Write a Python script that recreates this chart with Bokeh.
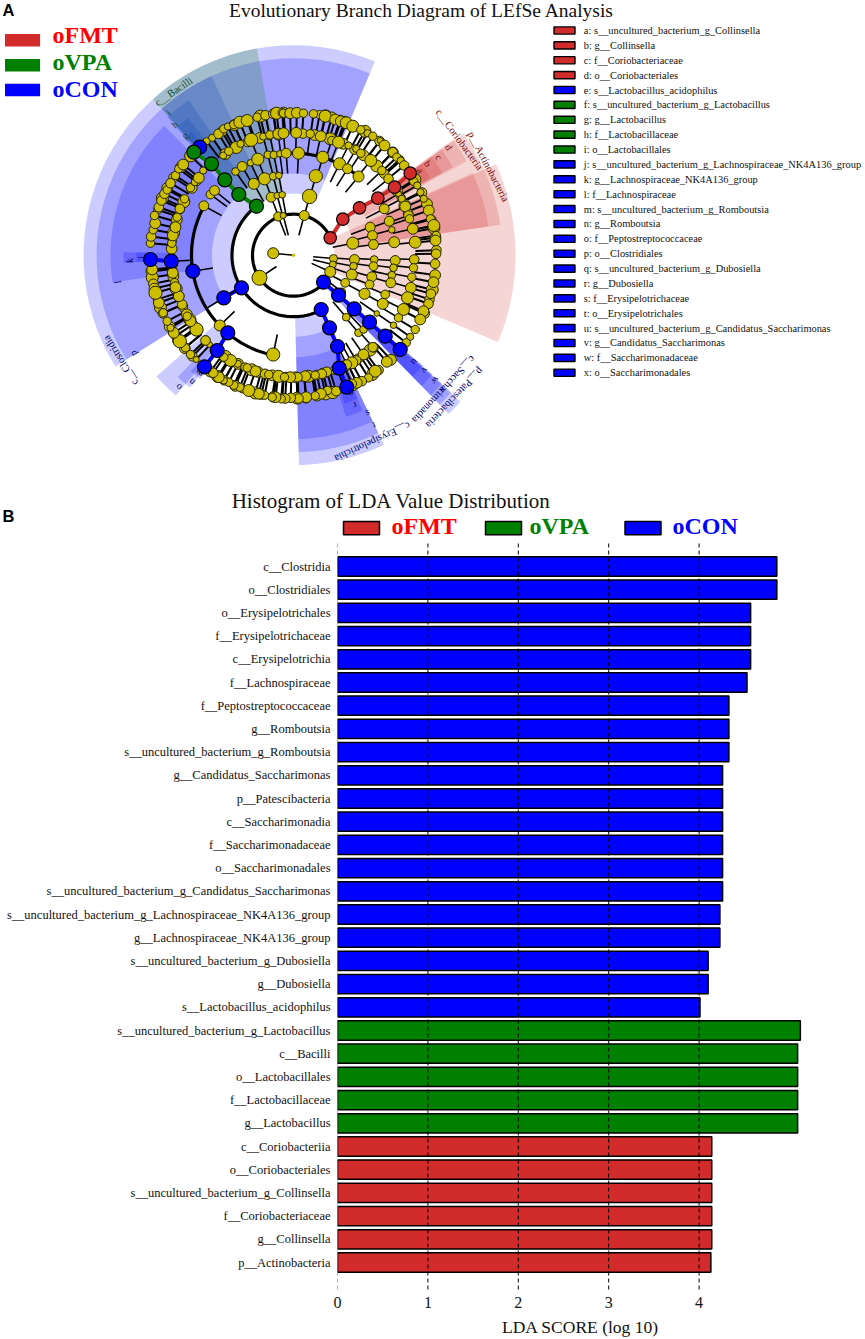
import numpy as np
from bokeh.plotting import figure
from bokeh.layouts import column
from bokeh.models import Range1d, FixedTicker
from bokeh.core.properties import value
from bokeh.embed import file_html
from bokeh.resources import INLINE

SERIF = "Liberation Serif"
RED, GREEN, BLUE = "#D22B2B", "#008000", "#0000FF"
YEL = "#CDBE00"

# ---------- bar chart data ----------
bar_labels = ["c__Clostridia", "o__Clostridiales", "o__Erysipelotrichales", "f__Erysipelotrichaceae",
              "c__Erysipelotrichia", "f__Lachnospiraceae", "f__Peptostreptococcaceae", "g__Romboutsia",
              "s__uncultured_bacterium_g_Romboutsia", "g__Candidatus_Saccharimonas", "p__Patescibacteria",
              "c__Saccharimonadia", "f__Saccharimonadaceae", "o__Saccharimonadales",
              "s__uncultured_bacterium_g_Candidatus_Saccharimonas",
              "s__uncultured_bacterium_g_Lachnospiraceae_NK4A136_group", "g__Lachnospiraceae_NK4A136_group",
              "s__uncultured_bacterium_g_Dubosiella", "g__Dubosiella", "s__Lactobacillus_acidophilus",
              "s__uncultured_bacterium_g_Lactobacillus", "c__Bacilli", "o__Lactobacillales",
              "f__Lactobacillaceae", "g__Lactobacillus", "c__Coriobacteriia", "o__Coriobacteriales",
              "s__uncultured_bacterium_g_Collinsella", "f__Coriobacteriaceae", "g__Collinsella",
              "p__Actinobacteria"]
bar_values = [4.86, 4.86, 4.57, 4.57, 4.57, 4.53, 4.33, 4.33, 4.33, 4.26, 4.26, 4.26, 4.26, 4.26, 4.26,
              4.23, 4.23, 4.10, 4.10, 4.01, 5.12, 5.09, 5.09, 5.09, 5.09, 4.14, 4.14, 4.14, 4.14, 4.14, 4.13]
bar_groups = ["oCON"] * 20 + ["oVPA"] * 5 + ["oFMT"] * 6
group_names = ["oFMT", "oVPA", "oCON"]

# ---------- cladogram legend ----------
clade_legend = ["a: s__uncultured_bacterium_g_Collinsella", "b: g__Collinsella", "c: f__Coriobacteriaceae",
                "d: o__Coriobacteriales", "e: s__Lactobacillus_acidophilus",
                "f: s__uncultured_bacterium_g_Lactobacillus", "g: g__Lactobacillus", "h: f__Lactobacillaceae",
                "i: o__Lactobacillales", "j: s__uncultured_bacterium_g_Lachnospiraceae_NK4A136_group",
                "k: g__Lachnospiraceae_NK4A136_group", "l: f__Lachnospiraceae",
                "m: s__uncultured_bacterium_g_Romboutsia", "n: g__Romboutsia", "o: f__Peptostreptococcaceae",
                "p: o__Clostridiales", "q: s__uncultured_bacterium_g_Dubosiella", "r: g__Dubosiella",
                "s: f__Erysipelotrichaceae", "t: o__Erysipelotrichales",
                "u: s__uncultured_bacterium_g_Candidatus_Saccharimonas", "v: g__Candidatus_Saccharimonas",
                "w: f__Saccharimonadaceae", "x: o__Saccharimonadales"]
clade_groups = ["oFMT"] * 4 + ["oCON"] + ["oVPA"] * 4 + ["oCON"] * 15

# ---------- cladogram: centre, highlighted sectors (angle from, angle to, radius from, radius to, group) ----------
CX, CY = 293.0, 254.7
sectors = [
    (67.2, 212, 61.5, 210, "oCON"), (67.2, 212, 81.5, 197, "oCON"), (135, 188.6, 102, 183, "oCON"),
    (179, 182.5, 122, 170, "oCON"), (179, 182.5, 143, 157, "oCON"),
    (221.5, 230, 102, 183, "oCON"), (226.5, 232, 122, 168, "oCON"), (228.5, 233, 143, 155, "oCON"),
    (100, 132, 61.5, 210, "oVPA"), (114.6, 132, 81.7, 197, "slate"), (124, 132.5, 102, 187, "slate"),
    (127.5, 132.5, 122, 173, "slate"), (129.5, 133, 143, 160, "slate"),
    (-88.5, -64.5, 61.5, 210, "oCON"), (-88.5, -64.5, 81.5, 197, "oCON"), (-88.5, -64.5, 102, 184, "oCON"),
    (-72, -66, 122, 170, "oCON"), (-71, -66, 143, 157, "oCON"),
    (-45.7, -41.2, 41, 222, "oCON"), (-45.6, -41, 61, 209, "oCON"), (-45.5, -40.8, 81, 196, "oCON"),
    (-45.5, -40.6, 102, 183, "oCON"), (-45.5, -40.5, 122, 170, "oCON"),
    (-23, 24.2, 41, 222, "oFMT"), (8.4, 35.5, 61, 209, "oFMT"), (8.4, 24.7, 81, 197, "oFMT"),
    (28.5, 36, 81, 197, "oFMT"), (29, 35.5, 102, 182, "oFMT"), (29, 35.5, 122, 170, "oFMT"), (29.5, 35.5, 143, 157, "oFMT"),
]
# thick arcs: radius, angle from, angle to
arcs = [(41, 25, 318), (61.5, 126, 297), (102, 151, 258.5), (102, 48, 94)]

# ---------- cladogram nodes ----------
outer_x = [150, 150.7, 152.7, 154.7, 154, 158.3, 161, 164, 166.7, 170, 175, 178.3, 182.7, 206, 211.7, 218, 223.3, 227.3,
           233.3, 239.3, 246.7, 256.7, 265, 272.7, 276, 281.7, 283, 289.7, 296.3, 303, 313, 324.7, 334.7, 340.3, 345.7,
           352.3, 360.3, 367, 372.3, 379.7, 384, 392.3, 396.3, 400.3, 403.7, 413.3, 416.7, 420, 423.3, 428.3, 430, 433.3,
           435.7, 435, 435.6, 434.6, 433, 430.4, 428, 423, 419.7, 414.7, 409.7, 405.7, 386.3, 374.7, 368, 361.3, 356.3, 351.3,
           335.7, 327, 320.3, 314.7, 305.7, 298, 290.3, 284.7, 280.7, 275, 271.7, 264, 258.3, 248.3, 239.3, 233.3, 228.3,
           223.3, 218.3, 212.7, 195.7, 190, 185, 179.3, 173.3, 170, 166.7, 162.7, 158.3, 155, 151.7]
outer_y = [242.7, 236, 229.3, 222.7, 215, 206.7, 200, 193.3, 189.3, 182.7, 175, 168.3, 164, 140.7, 137.3, 133.3, 128.3, 126,
           124, 121.7, 120, 116.7, 114.7, 113.3, 112.7, 112.3, 112.7, 112.7, 112.3, 112.7, 113.3, 115.7, 119, 120.7, 122.3,
           125.7, 129.3, 132.7, 135.7, 140, 145, 151.7, 156.7, 160, 165, 181, 185, 191.7, 198.3, 210, 218.3, 225,
           235, 240, 253.3, 263.3, 281.7, 293.3, 303.3, 310.7, 319, 329, 336.3, 342.3, 361.3, 370.7, 377.3, 380.7, 382.3, 383.3,
           390.7, 390, 393.3, 395.3, 396.7, 398, 397.3, 398, 398.3, 396.7, 396.7, 394.7, 393.3, 390, 386.7, 384.7, 381.7,
           380, 376.7, 372.3, 359, 354, 347.3, 340.7, 332.3, 327.3, 320.7, 312.3, 302.3, 292.3, 269]
outer_d = [7, 8, 7, 9, 7, 8, 8, 8, 7, 8, 7, 7, 9, 6, 6, 8, 7, 6, 7, 10, 10, 7, 8, 8, 10, 7, 7, 9, 9, 7, 7, 10, 9, 9, 10, 10,
           7, 6, 7, 5, 9, 8, 7, 6, 8, 7, 6, 6, 6, 9, 7, 10, 7, 9, 8, 8, 9, 8, 8, 9, 9, 7, 6, 7, 9, 10, 7, 8, 9, 8,
           8, 7, 9, 7, 9, 8, 8, 8, 7, 9, 7, 7, 9, 10, 7, 7, 7, 6, 9, 8, 5, 7, 7, 11, 9, 6, 7, 7, 9, 11, 9]
# further ring nodes, by angle, where the rings run together and cannot be told apart one by one
outer_more_a = [186.5, 189, 191.5, 193.5, 198, 201.5, 204, 210, 214.5, 216.5, 220.5, 225, 234.5, 238, 241, 246, 249, 254.5,
                257, 262, 265.5, 271.5, 275, 279.5, 283, 286, 291, 294.5, 296.5, 303.5, 306.5, 313, 161.5, 156.5, 152,
                147, 142, 136, 120, 114.5, 108.5, 103.5, 98, 94, 79.5, 77, 74.5, 71, 69, 60, 53, 46, 42, 32, 26, 21, 14.5, 11, 7, 2, -8, -14, -18, -24]
second_more_a = [184, 187.5, 190, 193, 196, 199.5, 205, 209, 212, 214.5, 218, 224, 236, 239, 243, 246.5, 250, 253, 256.5, 260,
                 263, 266.5, 271, 274, 277, 281, 284, 289.5, 293, 295.5, 302, 306, 309, 311, 177, 173, 169.5, 166, 163,
                 158, 154, 146.5, 142.5, 124, 118, 112, 106, 101.5, 97, 85.5, 80, 76.5, 72.5, 66, 60, 55, 47, 42, 32, 28, 24, 20]
more_d = [9, 10, 8, 9, 7, 10, 8, 9, 7, 10, 9, 8]

second_x = [171.3, 172.3, 175, 176.7, 179.3, 184, 190, 194.3, 198.3, 202.7, 222.7, 228.3, 240, 250.7, 262.7, 269.3, 277.7,
            283, 295.7, 309.7, 320.3, 331.3, 338, 348, 355.7, 360.3, 370.3, 381.3, 388, 398, 401.3, 404.7, 408, 409, 412.3,
            414.7, 413.7, 413, 411.3, 410.3, 407, 403, 398, 372.3, 363, 355.7, 351.3, 346.3, 326.3, 321.3, 314.7, 304.7,
            297, 289.7, 284, 268.3, 255, 246.7, 237.3, 230, 223.3, 209, 205, 196, 190, 186.7, 181.7, 178.3, 175, 172.3]
second_y = [242.7, 235, 226.7, 216.7, 208.3, 198.3, 187.3, 181.7, 177.3, 170, 155, 150.7, 143.3, 139.3, 136, 134.3, 133.3,
            132.7, 132.3, 133.3, 135.7, 140, 141.7, 145, 148.3, 152.7, 160, 170, 178.3, 193.3, 198.3, 206, 215, 218.3, 228.3,
            241.7, 259, 267.3, 276.7, 287.3, 297.3, 309, 317.3, 346.7, 354, 360, 362.3, 364, 371.3, 373.3, 374.7, 375.7,
            376.7, 376.7, 376.7, 374, 370.7, 367.3, 363.3, 360, 356.7, 344, 340, 329, 320.7, 315.7, 304, 295.7, 286.7, 272.3]
second_d = [7, 9, 9, 7, 8, 7, 7, 6, 9, 6, 6, 7, 6, 11, 6, 7, 9, 9, 9, 7, 9, 7, 10, 6, 6, 7, 10, 7, 8, 5, 6, 9, 8, 7, 9,
            10, 8, 7, 7, 9, 10, 10, 7, 8, 9, 8, 10, 8, 8, 8, 7, 9, 8, 9, 7, 7, 9, 7, 6, 10, 7, 5, 8, 11, 9, 7, 8, 9, 9, 9]

inner_x = [203.3, 210, 214, 235, 241.7, 250, 257.3, 267.3, 273.3, 279.3, 253.3, 264, 272.7, 278.3, 270.7, 276.7, 281.7,
           285.7, 298, 322.3, 339, 347, 358, 315.3, 309, 383.7, 388.7, 391.3, 393.7, 369.7, 372, 373, 352.3,
           354, 353, 351.3, 344.7, 341.3, 373.7, 373, 371.3, 369, 364, 394.7, 393, 391.3, 390.3, 384.7, 382.3,
           345.7, 358, 363, 376.3, 393, 219.3, 272.7]
inner_y = [205.3, 194, 190, 171, 166, 162.3, 158.7, 154.3, 154.3, 153.3, 183.3, 178.3, 175.7, 175, 196.7, 195, 194.3,
           152.7, 152.7, 156.7, 163.3, 168.3, 176, 175.7, 196, 208.3, 220.7, 229.3, 241.7, 226.7, 235, 244, 242.7,
           259, 265.7, 274, 282.3, 291.3, 259, 265.7, 276.3, 284, 293.3, 260, 267.3, 274.7, 282.3, 294, 303.3,
           316.7, 332.3, 329, 313, 324.7, 325, 354]
inner_d = [9, 8, 9, 7, 9, 6, 11, 7, 7, 6, 10, 11, 7, 6, 9, 6, 6, 9, 11, 11, 11, 9, 10, 12, 13, 9, 9, 6, 10, 9, 9, 9, 11,
           9, 7, 10, 8, 7, 7, 8, 9, 8, 10, 9, 7, 7, 9, 8, 10, 7, 7, 7, 5, 6, 10, 12]

stem_x = [272.7, 277.7, 282.7, 303.7, 259, 333, 332.3, 329.7]
stem_y = [252.7, 216, 215, 215, 277.3, 258, 264, 271.3]
stem_d = [11, 9, 6, 10, 15, 8, 7, 11]

# coloured chains of nodes (one list per clade)
chains = [
    ("oFMT", [329.7, 342.3, 359, 377.3, 394, 409.7], [237.3, 218.7, 207.3, 197.7, 186.7, 172.7]),
    ("oCON", [199.3], [146.7]),
    ("oVPA", [256, 238.3, 224.3, 211, 193.3], [205.7, 194, 179.3, 163.3, 151.7]),
    ("oCON", [323, 338, 353.7, 369, 384.7, 399.7], [281.7, 294.7, 308.3, 321.7, 335.7, 349]),
    ("oCON", [320.7, 329, 337, 338.7, 346.3], [309, 327.3, 346, 367.7, 386.7]),
    ("oCON", [241, 223.3], [287.3, 297.3]),
    ("oCON", [192.3], [270.7]),
    ("oCON", [170.7, 150], [260.7, 259]),
    ("oCON", [227.3, 216.7, 204], [332.3, 350, 366.3]),
]

# rotated texts: text, x, y, angle, group
clade_names = [
    ("c__Bacilli", 173, 91, 34.3, "oVPA"), ("c__Clostridia", 120, 360, 122, "oCON"),
    ("p__Actinobacteria", 488, 166, -62.6, "oFMT"), ("c__Coriobacteria", 459, 139, -53.9, "oFMT"),
    ("p__Patescibacteria", 454, 397.5, 226.8, "oCON"), ("c__Saccharimonadia", 443.3, 389, 227.3, "oCON"),
    ("c__Erysipelotrichia", 372, 441.5, 204.6, "oCON"),
]
clade_letters = [("a", 420, 170, -57, "oFMT"), ("b", 427.3, 163.3, -57, "oFMT"), ("c", 438.3, 156.7, -57, "oFMT"),
                 ("d", 448.3, 146.7, -57, "oFMT"), ("g", 184.3, 135, 42, "oVPA"), ("h", 174.3, 124.3, 42, "oVPA"),
                 ("i", 167.7, 111.7, 42, "oVPA"), ("j", 141, 257, 90, "oCON"), ("k", 129, 260, 90, "oCON"),
                 ("l", 117, 281.7, 98, "oCON"), ("m", 198.7, 372.7, 139, "oCON"), ("n", 191, 381.7, 139, "oCON"),
                 ("o", 178, 386.7, 139, "oCON"), ("p", 132.6, 353.3, 122, "oCON"), ("q", 351, 393, 201, "oCON"),
                 ("r", 354.7, 405, 201, "oCON"), ("s", 367.4, 413, 201, "oCON"), ("t", 373.6, 425, 201, "oCON"),
                 ("u", 414.3, 361.7, 228, "oCON"), ("v", 424.3, 370, 228, "oCON"), ("w", 435, 380, 228, "oCON"),
                 ("x", 443, 390, 228, "oCON")]

fill_of = {"oFMT": RED, "oVPA": GREEN, "oCON": BLUE, "slate": "#003CB4"}
legend_text_of = {"oFMT": "#FF0000", "oVPA": "#008000", "oCON": "#0000FF"}
label_of = {"oFMT": "#7A0A0A", "oVPA": "#0B4A2A", "oCON": "#00006E"}
RING_SCALE = 1.2


def pol(r, a):
    a = np.radians(np.asarray(a, float))
    return CX + r * np.cos(a), CY - r * np.sin(a)


def inward(xs, ys, dist):
    xs, ys = np.array(xs, float), np.array(ys, float)
    dx, dy = xs - CX, ys - CY
    r = np.hypot(dx, dy)
    return list(xs), list(ys), list(CX + dx * (r - dist) / r), list(CY + dy * (r - dist) / r)


def svg_fig(w, h):
    f = figure(width=w, height=h, output_backend="svg", toolbar_location=None, tools="",
               outline_line_color=None, background_fill_color="white", border_fill_color="white")
    f.grid.visible = False
    f.frame_align = False
    return f


# ============ top panel ============
TOP_H = 540
p1 = svg_fig(865, TOP_H)
p1.x_range = Range1d(0, 865)
p1.y_range = Range1d(TOP_H, 0)
p1.axis.visible = False
p1.min_border_left = p1.min_border_right = p1.min_border_top = p1.min_border_bottom = 0

for a0, a1, r0, r1, g in sectors:
    t = np.linspace(a0, a1, 40)
    xo, yo = pol(r1, t)
    xi, yi = pol(r0, t[::-1])
    p1.patch(np.r_[xo, xi], np.r_[yo, yi], fill_color=fill_of[g], fill_alpha=0.2, line_color=None)

# links
ox, oy = pol(143, outer_more_a)
sx, sy = pol(122, second_more_a)
ox_all, oy_all = list(outer_x) + list(ox), list(outer_y) + list(oy)
x0, y0, x1, y1 = inward(ox_all, oy_all, 21)
p1.segment(x0, y0, x1, y1, line_color="black", line_width=2)
lx = [x for x, y in zip(second_x, second_y) if x > 240 and y < 366]
ly = [y for x, y in zip(second_x, second_y) if x > 240 and y < 366]
x0, y0, x1, y1 = inward(lx, ly, 20.4)
p1.segment(x0, y0, x1, y1, line_color="black", line_width=1.6)
x0, y0, x1, y1 = inward(inner_x, inner_y, 20.4)
p1.segment(x0, y0, x1, y1, line_color="black", line_width=1.6)
x0, y0, x1, y1 = inward(stem_x, stem_y, 20.4)
p1.segment(x0, y0, x1, y1, line_color="black", line_width=1.6)

for r, a0, a1 in arcs:
    xa, ya = pol(r, np.linspace(a0, a1, 120))
    p1.line(xa, ya, line_color="black", line_width=3.2)

for g, xs, ys in chains:
    if len(xs) > 1:
        p1.line(xs, ys, line_color=fill_of[g], line_width=4)
# thin stems joining the blue clades to their parent arc
x0, y0, x1, y1 = inward([192.3, 170.7, 223.3], [270.7, 260.7, 297.3], 20.4)
p1.segment(x0, y0, x1, y1, line_color="black", line_width=1.6)
x0, y0, x1, y1 = inward([223.3], [297.3], -20.4)
p1.segment(x0, y0, x1, y1, line_color="black", line_width=1.6)

more_o = [more_d[i % len(more_d)] for i in range(len(outer_more_a))]
more_s = [more_d[(i + 5) % len(more_d)] for i in range(len(second_more_a))]
p1.scatter(stem_x, stem_y, size=stem_d, fill_color=YEL, line_color="#222200", line_width=1)
p1.scatter(inner_x, inner_y, size=[d * 1.1 for d in inner_d], fill_color=YEL, line_color="#222200", line_width=1)
p1.scatter(list(sx) + second_x, list(sy) + second_y, size=[d * RING_SCALE for d in more_s + second_d],
           fill_color=YEL, line_color="#222200", line_width=1)
p1.scatter(list(ox) + outer_x, list(oy) + outer_y, size=[d * RING_SCALE for d in more_o + outer_d],
           fill_color=YEL, line_color="#222200", line_width=1)
p1.scatter([CX], [CY], size=3.5, fill_color=YEL, line_color=None)
for g, xs, ys in chains:
    p1.scatter(xs, ys, size=14 if g != "oFMT" else 12.5, fill_color=fill_of[g], line_color="black", line_width=1.2)

for t, x, y, a, g in clade_names:
    p1.text([x], [y], text=[t], angle=a, angle_units="deg", text_align="center", text_baseline="middle",
            text_font=value(SERIF), text_font_size="10.5px", text_color=label_of[g])
for t, x, y, a, g in clade_letters:
    p1.text([x], [y], text=[t], angle=a, angle_units="deg", text_align="center", text_baseline="middle",
            text_font=value(SERIF), text_font_size="10px", text_color=label_of[g])

# top-left legend
for g, yr, yt in zip(group_names, [39.7, 64.7, 89.5], [34, 61, 88]):
    p1.quad(left=[4.5], right=[39.6], top=[yr - 6.2], bottom=[yr + 6.2], fill_color=fill_of[g], line_color=None)
    p1.text([52], [yt], text=[g], text_align="left", text_baseline="middle", text_font=value(SERIF),
            text_font_style="bold", text_font_size="24px", text_color=legend_text_of[g])

# right legend
ys_leg = [30 + i * 14.88 for i in range(len(clade_legend))]
p1.quad(left=[553.5] * 24, right=[574.5] * 24, top=[y - 3.6 for y in ys_leg], bottom=[y + 3.6 for y in ys_leg],
        fill_color=[fill_of[g] for g in clade_groups], line_color="black", line_width=1.4)
p1.text([583.3] * 24, ys_leg, text=clade_legend, text_align="left", text_baseline="middle", text_font=value(SERIF),
        text_font_size="10.4px", text_color="#111111")

p1.text([421], [9.5], text=["Evolutionary Branch Diagram of LEfSe Analysis"], text_align="center", text_baseline="middle",
        text_font=value(SERIF), text_font_size="19.5px", text_color="#111111")
p1.text([391], [500], text=["Histogram of LDA Value Distribution"], text_align="center", text_baseline="middle",
        text_font=value(SERIF), text_font_size="21px", text_color="#111111")
for t, y in [("A", 9), ("B", 515)]:
    p1.text([2], [y], text=[t], text_align="left", text_baseline="middle", text_font=value("Liberation Sans"),
            text_font_style="bold", text_font_size="16.5px", text_color="black")

# bar-chart legend
for g, xr, xt in zip(group_names, [343, 485, 624.5], [391, 529, 672]):
    p1.quad(left=[xr], right=[xr + 36], top=[521], bottom=[534.3], fill_color=fill_of[g], line_color="black", line_width=1.5)
    p1.text([xt], [525], text=[g], text_align="left", text_baseline="middle", text_font=value(SERIF),
            text_font_style="bold", text_font_size="24px", text_color=legend_text_of[g])

# ============ bottom panel ============
BOT_H = 799
F_TOP, F_BOT = 540, 1292
F_RIGHT = 823
Y0, STEP = 566.0, 23.2
p2 = svg_fig(865, BOT_H)
p2.min_border_left = 337
p2.min_border_right = 865 - F_RIGHT
p2.min_border_top = 0
p2.min_border_bottom = BOT_H - (F_BOT - F_TOP)
p2.x_range = Range1d(0, (F_RIGHT - 337) / 90.4)
p2.y_range = Range1d((F_BOT - Y0) / STEP, (F_TOP - Y0) / STEP)
p2.extra_y_ranges = {"px": Range1d(F_BOT, F_TOP)}

rows = list(range(len(bar_labels)))
p2.hbar(y=rows, left=0, right=bar_values, height=0.83, fill_color=[fill_of[g] for g in bar_groups],
        line_color="black", line_width=1.5)

xa = p2.xaxis[0]
xa.ticker = FixedTicker(ticks=[0, 1, 2, 3, 4])
xa.axis_line_color = None
xa.major_tick_line_color = None
xa.minor_tick_line_color = None
xa.major_tick_out = 0
xa.major_tick_in = 0
xa.major_label_text_font = SERIF
xa.major_label_text_font_size = "16px"
xa.major_label_text_color = "#111111"
xa.major_label_standoff = 4
xa.axis_label = "LDA SCORE (log 10)"
xa.axis_label_text_font = SERIF
xa.axis_label_text_font_style = "normal"
xa.axis_label_text_font_size = "17.5px"
xa.axis_label_text_color = "#111111"
xa.axis_label_standoff = 6

ya = p2.yaxis[0]
ya.ticker = FixedTicker(ticks=rows)
ya.major_label_overrides = {i: s for i, s in enumerate(bar_labels)}
ya.axis_line_color = None
ya.major_tick_line_color = None
ya.minor_tick_line_color = None
ya.major_tick_out = 0
ya.major_tick_in = 0
ya.major_label_text_font = SERIF
ya.major_label_text_font_size = "12.5px"
ya.major_label_text_color = "#111111"
ya.major_label_standoff = 7

# dashed grid over the bars
p2.segment([1, 2, 3, 4], [543] * 4, [1, 2, 3, 4], [F_BOT] * 4, y_range_name="px", line_color="black",
           line_width=1, line_dash="4 3")
p2.segment([0], [543], [0], [F_BOT], y_range_name="px", line_color="#666666", line_width=1, line_dash="4 3")

page = column(p1, p2, spacing=0)
open("out.html", "w").write(file_html(page, INLINE))
